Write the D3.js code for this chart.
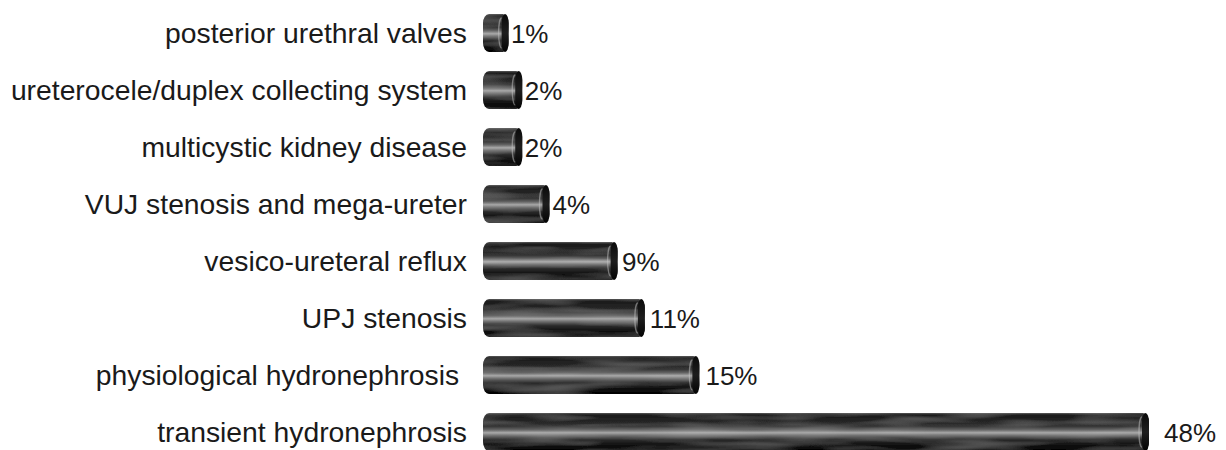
<!DOCTYPE html>
<html><head><meta charset="utf-8">
<script src="https://cdn.jsdelivr.net/npm/d3@7"></script>
<style>
html,body{margin:0;padding:0;background:#fff;}
svg{display:block;}
text{font-family:"Liberation Sans",Arial,Helvetica,sans-serif;fill:#1a1a1a;white-space:pre;}
</style></head>
<body>
<svg id="chart" width="1226" height="450"></svg>
<script>
const categories = ["posterior urethral valves","ureterocele/duplex collecting system","multicystic kidney disease","VUJ stenosis and mega-ureter","vesico-ureteral reflux","UPJ stenosis","physiological hydronephrosis ","transient hydronephrosis"];
const values = [1,2,2,4,9,11,15,48];
const valueLabels = ["1%","2%","2%","4%","9%","11%","15%","48%"];

const svg = d3.select("#chart");
const defs = svg.append("defs");
const g1 = defs.append("linearGradient").attr("id","cyl").attr("x1",0).attr("y1",0).attr("x2",0).attr("y2",1);
[[0,"#5a5a5a"],[0.05,"#1c1c1c"],[0.22,"#242424"],[0.36,"#383838"],[0.45,"#6a6a6a"],[0.52,"#a8a8a8"],[0.59,"#707070"],[0.7,"#2c2c2c"],[0.86,"#0e0e0e"],[1,"#030303"]]
 .forEach(([o,c])=>g1.append("stop").attr("offset",o).attr("stop-color",c));
const g2 = defs.append("linearGradient").attr("id","cap").attr("x1",0).attr("y1",0).attr("x2",0).attr("y2",1);
[[0,"#0a0a0a"],[0.5,"#1e1e1e"],[1,"#030303"]].forEach(([o,c])=>g2.append("stop").attr("offset",o).attr("stop-color",c));
const f = defs.append("filter").attr("id","brush").attr("x",0).attr("y",0).attr("width",1).attr("height",1);
f.append("feTurbulence").attr("type","fractalNoise").attr("baseFrequency","0.012 0.12").attr("numOctaves",2).attr("seed",5).attr("result","n");
f.append("feColorMatrix").attr("in","n").attr("type","matrix")
 .attr("values","0 0 0 0 1  0 0 0 0 1  0 0 0 0 1  0.18 0 0 0 -0.07").attr("result","w");
f.append("feComposite").attr("in","w").attr("in2","SourceGraphic").attr("operator","in").attr("result","wi");
f.append("feMerge").call(m=>{m.append("feMergeNode").attr("in","SourceGraphic");m.append("feMergeNode").attr("in","wi");});

const x0 = 483, rx = 6, bh = 38;
const x = d3.scaleLinear().domain([0,48]).range([0,654]);
const y = d3.scalePoint().domain(categories).range([33,432]);

const rows = svg.selectAll("g.row").data(categories.map((c,i)=>({c,v:values[i],l:valueLabels[i]}))).join("g").attr("class","row");

rows.append("text").attr("x",467).attr("y",d=>y(d.c)).attr("dy","0.35em")
  .attr("text-anchor","end").attr("font-size",28.3).text(d=>d.c);

rows.each(function(d){
  const g = d3.select(this);
  const cy = y(d.c), top = cy-bh/2, bot = cy+bh/2;
  const xe = x0 + x(d.v) + 2*rx;
  const seam = xe - rx;
  g.append("rect").attr("x",x0).attr("y",top).attr("width",xe-x0).attr("height",bh)
    .attr("rx",6).attr("ry",9).attr("fill","url(#cyl)").attr("filter","url(#brush)");
  g.append("rect").attr("x",seam-1).attr("y",top).attr("width",rx+1).attr("height",bh)
    .attr("rx",5).attr("ry",9).attr("fill","url(#cap)");
  g.append("path").attr("d",`M${seam-1},${top+4} A3,${bh/2-4} 0 0 0 ${seam-1},${bot-4}`)
    .attr("fill","none").attr("stroke","rgba(200,200,200,0.5)").attr("stroke-width",1.3);
  g.append("text").attr("x",497 + x(d.v)*1.02).attr("y",cy+1).attr("dy","0.35em")
    .attr("font-size",26).text(d.l);
});
</script>
</body></html>
